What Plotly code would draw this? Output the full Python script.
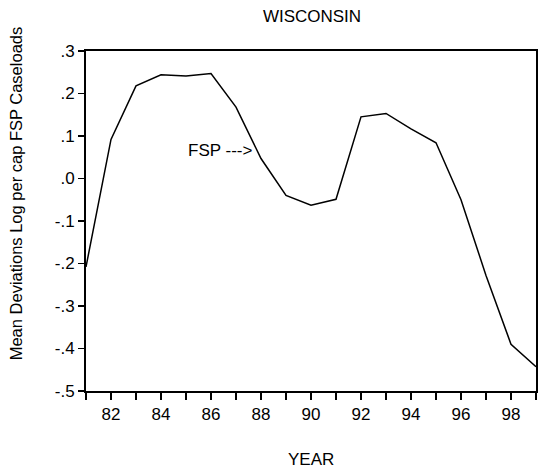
import plotly.graph_objects as go

years = list(range(1981, 2000))
fsp = [-0.208, 0.092, 0.218, 0.244, 0.241, 0.247, 0.168, 0.047, -0.040, -0.063,
       -0.049, 0.145, 0.153, 0.117, 0.084, -0.050, -0.228, -0.390, -0.443]

x_tickvals = list(range(1981, 2000))
x_ticktext = [str(y)[2:] if y % 2 == 0 else "" for y in x_tickvals]
y_tickvals = [0.3, 0.2, 0.1, 0.0, -0.1, -0.2, -0.3, -0.4, -0.5]
y_ticktext = [".3", ".2", ".1", ".0", "-.1", "-.2", "-.3", "-.4", "-.5"]

font = "Liberation Sans, Arial, sans-serif"
FS = 17

W, H = 539, 474
L, R, T, B = 86, 1, 51, 83
PW, PH = W - L - R, H - T - B


def px(x):
    return (x - L) / PW


def py(y):
    return (H - B - y) / PH


fig = go.Figure()
fig.add_trace(go.Scatter(x=years, y=fsp, mode="lines",
                         line=dict(color="black", width=1.5),
                         showlegend=False, hoverinfo="skip"))

fig.update_layout(
    width=W, height=H,
    margin=dict(l=L, r=R, t=T, b=B),
    paper_bgcolor="white", plot_bgcolor="white",
    font=dict(family=font, size=FS, color="black"),
    title=dict(text="WISCONSIN", x=312 / W, xanchor="center", y=1 - 16 / H,
               yanchor="middle", font=dict(size=FS, family=font, color="black")),
    annotations=[
        dict(text="FSP --->", x=1987.72, y=0.065, xref="x", yref="y",
             xanchor="right", yanchor="middle", showarrow=False,
             font=dict(size=FS, family=font, color="black")),
        dict(text="Mean Deviations Log per cap FSP Caseloads", textangle=-90,
             x=px(16), y=py(193), xref="paper", yref="paper",
             xanchor="center", yanchor="middle", showarrow=False,
             font=dict(size=16.5, family=font, color="black")),
        dict(text="YEAR", x=px(312), y=py(459), xref="paper", yref="paper",
             xanchor="center", yanchor="middle", showarrow=False,
             font=dict(size=FS, family=font, color="black")),
    ],
)

fig.update_xaxes(range=[1981, 1999], tickvals=x_tickvals, ticktext=x_ticktext,
                 ticks="outside", ticklen=7, tickwidth=1.5, tickcolor="black",
                 showline=True, linecolor="black", linewidth=2, mirror=True,
                 showgrid=False, zeroline=False, tickfont=dict(size=FS))
fig.update_yaxes(range=[-0.5, 0.3], tickvals=y_tickvals, ticktext=y_ticktext,
                 ticks="outside", ticklen=6, tickwidth=1.5, tickcolor="black",
                 showline=True, linecolor="black", linewidth=2, mirror=True,
                 showgrid=False, zeroline=False, tickfont=dict(size=FS))

fig.write_html("out.html",
               config={"displayModeBar": False, "staticPlot": True},
               post_script="document.body.style.margin='0';document.body.style.overflow='hidden';")
